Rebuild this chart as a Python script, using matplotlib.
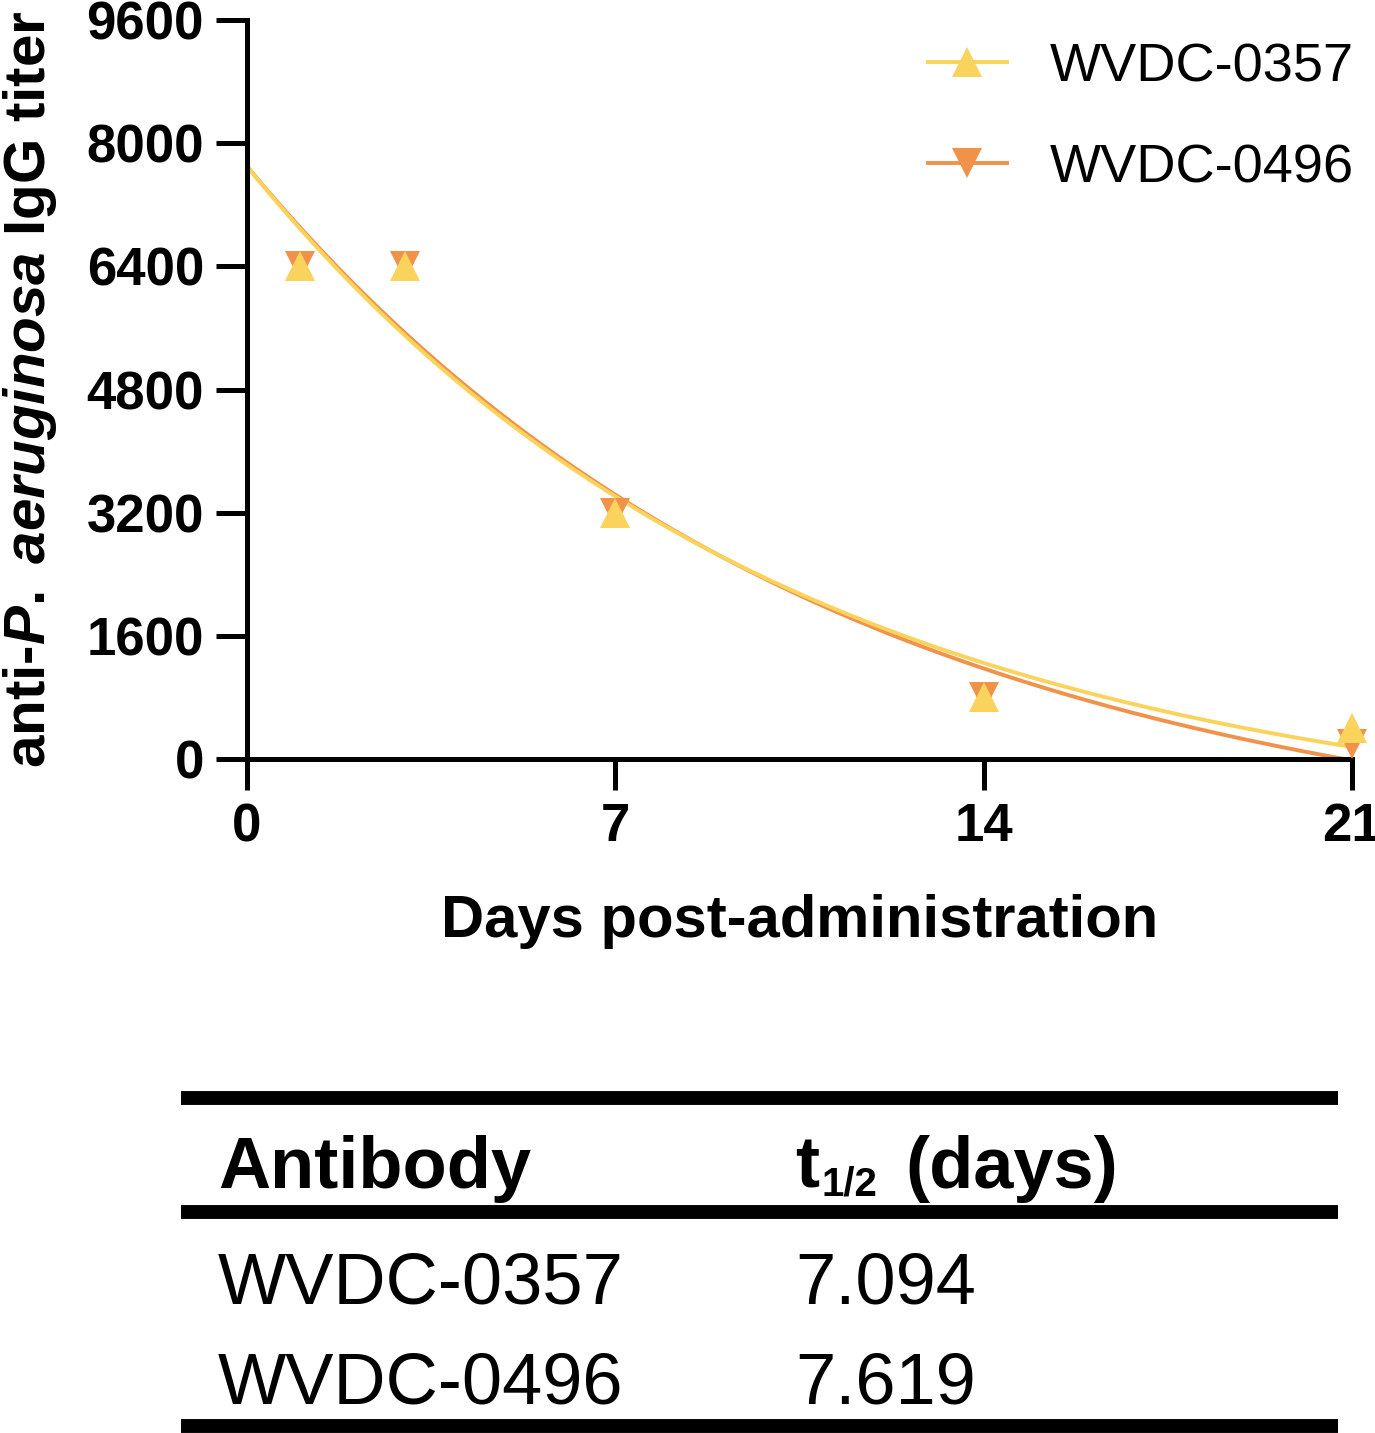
import numpy as np
import matplotlib
matplotlib.use("Agg")
import matplotlib.pyplot as plt
from matplotlib.lines import Line2D

plt.rcParams['font.family'] = ['Liberation Sans', 'DejaVu Sans']
plt.rcParams['mathtext.fontset'] = 'custom'
plt.rcParams['mathtext.rm'] = 'Liberation Sans:bold'
plt.rcParams['mathtext.bf'] = 'Liberation Sans:bold'
plt.rcParams['mathtext.it'] = 'Liberation Sans:italic:bold'

# ---------------- data ----------------
days = [1, 3, 7, 14, 21]
titer_0357 = [6400, 6400, 3200, 800, 400]
titer_0496 = [6400, 6400, 3200, 800, 200]
labels = ["WVDC-0357", "WVDC-0496"]
half_life = [7.094, 7.619]          # days (one-phase decay fits)
fit_y0 = [7700, 7700]               # fitted value at day 0
fit_plateau = [-956, -1359]         # fitted plateau
x_ticks = [0, 7, 14, 21]
y_ticks = [0, 1600, 3200, 4800, 6400, 8000, 9600]

yellow = '#F9D35B'
orange = '#F0924A'

W, H = 1375, 1433
fig = plt.figure(figsize=(W / 100, H / 100), dpi=100)

ax = fig.add_axes([247 / W, 1 - 759 / H, 1105 / W, 739 / H])
ax.set_xlim(0, 21)
ax.set_ylim(0, 9600)

t = np.linspace(0, 21, 300)
series = [(titer_0496, half_life[1], fit_y0[1], fit_plateau[1], orange, 'v'),
          (titer_0357, half_life[0], fit_y0[0], fit_plateau[0], yellow, '^')]
for vals, th, y0, p, col, mk in series:
    k = np.log(2) / th
    ax.plot(t, p + (y0 - p) * np.exp(-k * t), color=col, lw=2.8, zorder=2)
for vals, th, y0, p, col, mk in series:
    ax.plot(days, vals, linestyle='none', marker=mk, markersize=22,
            color=col, markeredgewidth=0, clip_on=False, zorder=3)

for s in ['top', 'right']:
    ax.spines[s].set_visible(False)
for s in ['left', 'bottom']:
    ax.spines[s].set_linewidth(3.6)
ax.set_xticks(x_ticks)
ax.set_yticks(y_ticks)
ax.tick_params(axis='both', length=22, width=3.6, pad=9, labelsize=38)
for lab in ax.get_xticklabels() + ax.get_yticklabels():
    lab.set_fontweight('bold')

ax.set_xlabel('Days post-administration', fontsize=43, fontweight='bold', labelpad=30)
ax.set_ylabel(r'anti-$\mathit{P.}$ $\mathit{aeruginosa}$ IgG titer', fontsize=42,
              fontweight='bold', labelpad=20)

handles = [Line2D([], [], color=yellow, lw=2.8, marker='^', markersize=22, markeredgewidth=0),
           Line2D([], [], color=orange, lw=2.8, marker='v', markersize=22, markeredgewidth=0)]
ax.legend(handles, labels, loc='upper left', bbox_to_anchor=(928 / W, 1 - 42 / H),
          bbox_transform=fig.transFigure, frameon=False, fontsize=39,
          borderpad=0, borderaxespad=0, handlelength=1.45, handletextpad=0.8,
          labelspacing=0.95)

# ---------------- table ----------------
tab = fig.add_axes([0, 0, 1, 1])
tab.set_xlim(0, W)
tab.set_ylim(H, 0)
tab.axis('off')
tab.patch.set_alpha(0)
tab.hlines([1098, 1211.5, 1426], 181, 1338, colors='black', linewidth=10)

tab.text(218, 1188, 'Antibody', fontsize=52, fontweight='bold', va='baseline')
tab.text(795, 1188, 't', fontsize=52, fontweight='bold', va='baseline')
tab.text(822, 1195, '1/2', fontsize=29, fontweight='bold', va='baseline')
tab.text(905, 1188, '(days)', fontsize=52, fontweight='bold', va='baseline')
row_base = [1303, 1404]
for lab, hl, yb in zip(labels, half_life, row_base):
    tab.text(218, yb, lab, fontsize=52, va='baseline')
    tab.text(795, yb, f'{hl:.3f}', fontsize=52, va='baseline')

fig.savefig('out.png', dpi=100)
